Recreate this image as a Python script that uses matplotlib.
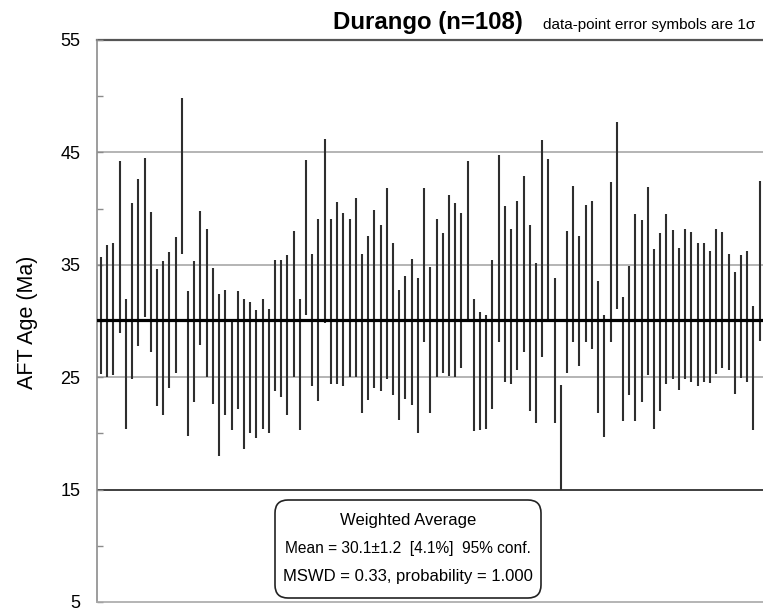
import numpy
from matplotlib import pyplot as plt
from matplotlib.patches import FancyBboxPatch

plt.rcParams['font.family'] = ['Liberation Sans', 'DejaVu Sans']

# upper and lower ends of the 1-sigma error bar for each grain age (Ma)
age_hi = [35.7, 36.8, 36.9, 44.2, 32.0, 40.5, 42.6, 44.5, 39.7, 34.6, 35.3, 36.1, 37.5, 49.8, 32.7, 35.3, 39.8, 38.2,
          34.7, 32.4, 32.8, 29.9, 32.7, 32.0, 31.7, 31.0, 32.0, 31.1, 35.4, 35.4, 35.9, 38.0, 32.0, 44.3, 36.0, 39.1,
          46.2, 39.1, 40.6, 39.6, 39.1, 40.9, 36.0, 37.6, 39.9, 38.5, 41.8, 36.9, 32.8, 34.0, 35.5, 33.8, 41.8, 34.8,
          39.1, 37.8, 41.2, 40.5, 39.6, 44.2, 32.0, 30.8, 30.5, 35.4, 44.8, 40.2, 38.2, 40.7, 42.9, 38.5, 35.2,
          46.1, 44.4, 33.8, 24.3, 38.0, 42.0, 37.6, 40.3, 40.7, 33.6, 30.5, 42.4, 47.7, 32.1, 34.9, 39.5, 39.0, 41.9,
          36.4, 37.8, 39.5, 38.1, 36.5, 38.2, 37.9, 36.9, 36.9, 36.2, 38.2, 37.9, 36.0, 34.4, 35.9, 36.2, 31.3, 42.5,
          35.5]
age_lo = [25.3, 25.0, 25.2, 28.9, 20.4, 24.8, 27.8, 30.4, 27.2, 22.4, 21.6, 24.0, 25.4, 36.0, 19.8, 22.8, 27.9, 25.0,
          22.6, 18.0, 21.6, 20.3, 22.2, 18.6, 20.0, 19.6, 20.4, 20.0, 23.8, 23.2, 21.6, 25.0, 20.3, 30.5, 24.2, 22.9,
          29.8, 24.4, 24.4, 24.2, 25.0, 25.0, 21.8, 23.0, 24.0, 23.8, 24.8, 23.4, 21.2, 23.1, 22.5, 20.0, 28.1, 21.8,
          25.0, 25.4, 25.1, 25.0, 25.8, 29.9, 20.2, 20.3, 20.4, 22.2, 28.1, 24.6, 24.4, 25.6, 27.2, 22.0, 20.9,
          26.8, 29.9, 20.9, 15.0, 25.4, 28.1, 26.0, 28.1, 27.5, 21.8, 19.7, 28.1, 31.1, 21.1, 23.4, 21.1, 22.8, 25.2,
          20.4, 22.0, 24.4, 24.8, 23.9, 24.8, 24.6, 24.2, 24.6, 24.5, 25.3, 25.8, 25.6, 23.5, 24.9, 24.6, 20.3, 28.2,
          25.0]

# weighted average results
mean_age = 30.1
mean_err = 1.2
mean_pct = 4.1
mswd = 0.33
probability = 1.000

y_ticks = [5, 15, 25, 35, 45, 55]
y_minor = [10, 20, 30, 40, 50]
grid_levels = [25, 35, 45]

n_grains = len(age_hi)
grain = numpy.arange(1, n_grains + 1)

fig = plt.figure(figsize=(7.63, 6.08), dpi=100)
ax = fig.add_axes([97 / 763, 6 / 608, 666 / 763, 562 / 608])

# horizontal reference lines
for level in grid_levels:
    ax.axhline(level, color='#a8a8a8', lw=1.2, zorder=1)
ax.axhline(15, color='#303030', lw=1.3, zorder=1)
ax.axhline(55, color='#555555', lw=1.6, zorder=1, clip_on=False)

# error bars and the weighted mean
ax.vlines(grain, age_lo, age_hi, color='#2e2e2e', lw=1.5, zorder=2)
ax.axhline(mean_age, color='black', lw=2.3, zorder=3)

ax.set_xlim(0.356, 107.53)
ax.set_ylim(5, 55)
ax.set_yticks(y_ticks)
ax.set_yticks(y_minor, minor=True)
ax.set_xticks([])
ax.tick_params(axis='y', which='both', direction='in', length=4, width=1, color='#8c8c8c',
               labelsize=13, pad=12)
for side in ['top', 'right']:
    ax.spines[side].set_visible(False)
ax.spines['left'].set_color('#8c8c8c')
ax.spines['left'].set_linewidth(1.2)
ax.spines['bottom'].set_color('#a8a8a8')
ax.spines['bottom'].set_linewidth(1.2)

fig.text(28 / 763, 1 - 322 / 608, 'AFT Age (Ma)', rotation=90, ha='center', va='center', fontsize=15.5)

# title and note
fig.text(333 / 763, 1 - 29 / 608, 'Durango (n=%i)' % n_grains, fontsize=17.3, fontweight='bold',
         ha='left', va='baseline')
fig.text(543 / 763, 1 - 29 / 608, 'data-point error symbols are 1\u03c3', fontsize=11,
         ha='left', va='baseline')

# weighted average box
box = FancyBboxPatch((2.75, 0.10), 2.66, 0.98, boxstyle='round,pad=0,rounding_size=0.13',
                     transform=fig.dpi_scale_trans, facecolor='white', edgecolor='#222222', lw=1.2, zorder=5)
fig.patches.append(box)
box_x = 408 / 763
fig.text(box_x, 1 - 521 / 608, 'Weighted Average', ha='center', va='center', fontsize=12, zorder=6)
fig.text(box_x, 1 - 549 / 608, 'Mean = %.1f\u00b1%.1f  [%.1f%%]  95%% conf.' % (mean_age, mean_err, mean_pct),
         ha='center', va='center', fontsize=11.2, zorder=6)
fig.text(box_x, 1 - 577 / 608, 'MSWD = %.2f, probability = %.3f' % (mswd, probability),
         ha='center', va='center', fontsize=12, zorder=6)

fig.savefig('out.png', dpi=100)
